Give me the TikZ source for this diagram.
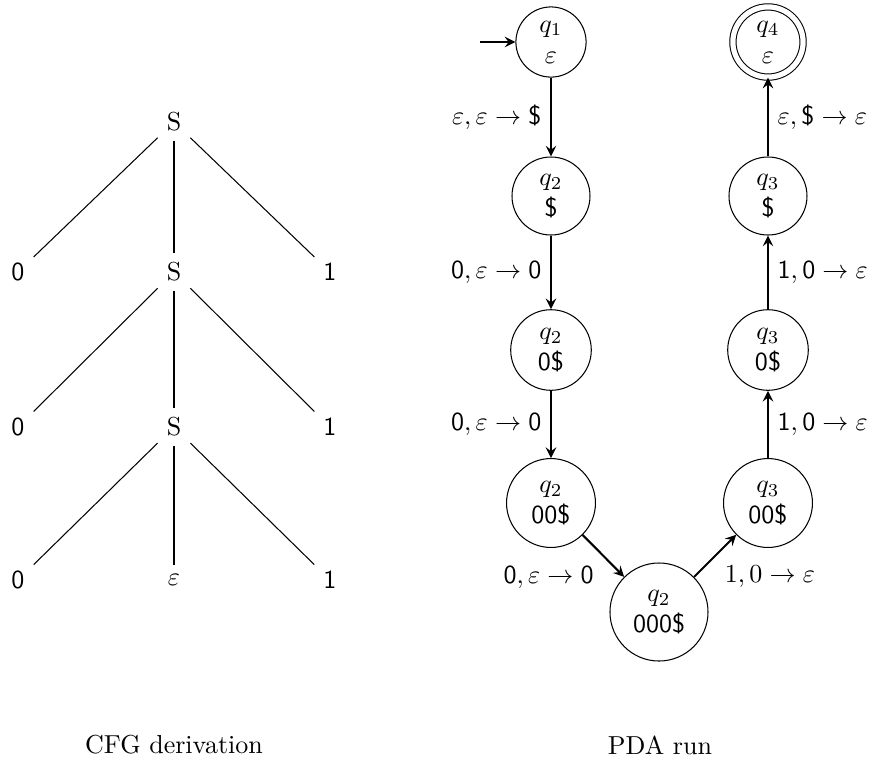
\documentclass[tikz,border=0pt]{standalone}
\usetikzlibrary{arrows}
\begin{document}
\begin{tikzpicture}[x=0.3846pt, y=-0.3846pt,
  leaf/.style={inner sep=3.33pt},
  st/.style={circle, draw, align=center, inner sep=0pt},
  acc/.style={st, double, double distance=2pt},
  arr/.style={->, >=stealth, thick}]
\useasboundingbox (0,0) rectangle (875,761);

% --- derivation tree ---
\node[leaf] (s1) at (174,122) {S};
\node[leaf] (l2) at (18,272) {\textsf{0}};
\node[leaf] (s2) at (174,272) {S};
\node[leaf] (r2) at (330,272) {\textsf{1}};
\node[leaf] (l3) at (18,427) {\textsf{0}};
\node[leaf] (s3) at (174,427) {S};
\node[leaf] (r3) at (330,427) {\textsf{1}};
\node[leaf] (l4) at (18,580) {\textsf{0}};
\node[leaf] (e4) at (174,580) {$\varepsilon$};
\node[leaf] (r4) at (330,580) {\textsf{1}};
\draw (s1) -- (l2);  \draw (s1) -- (s2);  \draw (s1) -- (r2);
\draw (s2) -- (l3);  \draw (s2) -- (s3);  \draw (s2) -- (r3);
\draw (s3) -- (l4);  \draw (s3) -- (e4);  \draw (s3) -- (r4);

% --- automaton run ---
\node[st, minimum size=27pt]   (q1) at (551,42)  {$q_1$\\$\varepsilon$};
\node[st, minimum size=30pt]   (a1) at (551,196) {$q_2$\\\textsf{\$}};
\node[st, minimum size=31pt]   (a2) at (551,350) {$q_2$\\\textsf{0\$}};
\node[st, minimum size=34.2pt] (a3) at (551,503) {$q_2$\\\textsf{00\$}};
\node[st, minimum size=37.7pt] (a4) at (659,612) {$q_2$\\\textsf{000\$}};
\node[st, minimum size=34.2pt] (b3) at (768,503) {$q_3$\\\textsf{00\$}};
\node[st, minimum size=31pt]   (b2) at (768,350) {$q_3$\\\textsf{0\$}};
\node[st, minimum size=30pt]   (b1) at (768,196) {$q_3$\\\textsf{\$}};
\node[acc, minimum size=27pt]  (q4) at (768,42)  {$q_4$\\$\varepsilon$};

\coordinate (start) at (480,42);
\draw[arr] (start) -- (q1);
\draw[arr] (q1) -- node[left] {$\varepsilon,\varepsilon\to\textsf{\$}$} (a1);
\draw[arr] (a1) -- node[left] {$\textsf{0},\varepsilon\to\textsf{0}$} (a2);
\draw[arr] (a2) -- node[left] {$\textsf{0},\varepsilon\to\textsf{0}$} (a3);
\draw[arr] (a3) -- node[below left] {$\textsf{0},\varepsilon\to\textsf{0}$} (a4);
\draw[arr] (a4) -- node[below right] {$1,0\to\varepsilon$} (b3);
\draw[arr] (b3) -- node[right] {$\textsf{1},\textsf{0}\to\varepsilon$} (b2);
\draw[arr] (b2) -- node[right] {$\textsf{1},\textsf{0}\to\varepsilon$} (b1);
\draw[arr] (b1) -- node[right] {$\varepsilon,\textsf{\$}\to\varepsilon$} (q4);

% --- captions ---
\node (cap1) at (174,745) {CFG derivation};
\node (cap2) at (660,745) {PDA run};
\end{tikzpicture}
\end{document}
